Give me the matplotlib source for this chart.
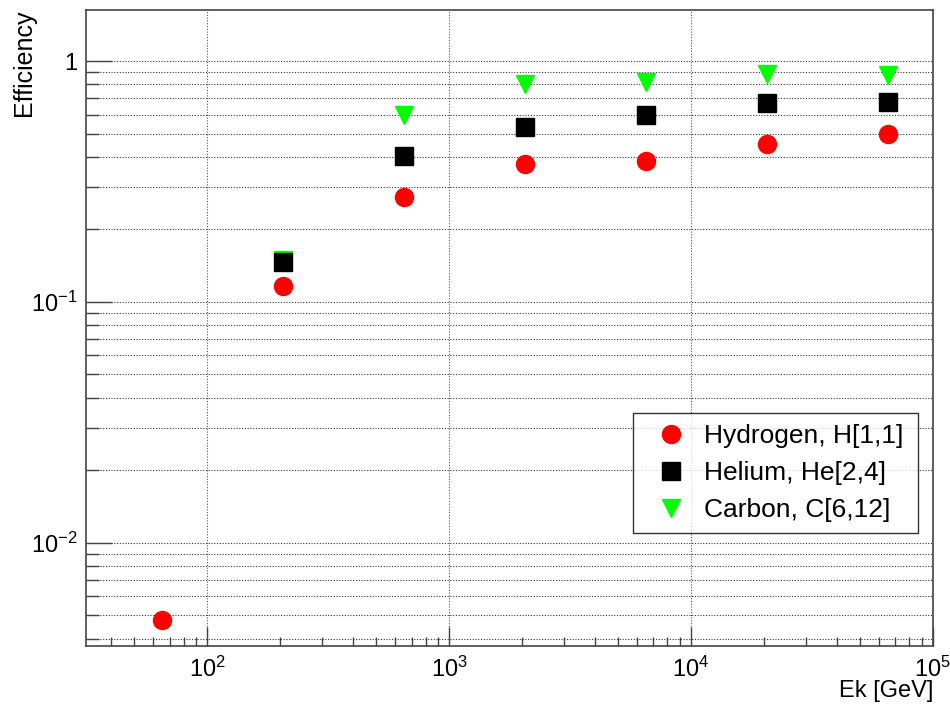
import matplotlib
matplotlib.use('Agg')
import matplotlib.pyplot as plt
import matplotlib.ticker as ticker
import numpy as np

plt.rcParams['font.family'] = ['Liberation Sans', 'DejaVu Sans']
plt.rcParams['mathtext.fontset'] = 'custom'
plt.rcParams['mathtext.rm'] = 'Liberation Sans'
plt.rcParams['mathtext.it'] = 'Liberation Sans:italic'

# kinetic energy bins [GeV]
ek_h = [65, 206, 650, 2060, 6500, 20600, 65000]
ek_he = [206, 650, 2060, 6500, 20600, 65000]
ek_c = [206, 650, 2060, 6500, 20600, 65000]

eff_h = [0.00477, 0.116, 0.274, 0.373, 0.386, 0.452, 0.496]
eff_he = [0.147, 0.404, 0.533, 0.596, 0.667, 0.675]
eff_c = [0.150, 0.597, 0.803, 0.819, 0.885, 0.876]

labels = ['Hydrogen, H[1,1]', 'Helium, He[2,4]', 'Carbon, C[6,12]']

fig = plt.figure(figsize=(9.5, 7.04), dpi=100)
ax = fig.add_axes([0.0905, 0.0824, 0.8915, 0.9034])

# carbon first so helium squares sit on top of it
l_c, = ax.plot(ek_c, eff_c, 'v', color='#00ff00', ms=13, mec='#00ff00', zorder=3)
l_h, = ax.plot(ek_h, eff_h, 'o', color='#ff0000', ms=13, mec='#ff0000', zorder=3)
l_he, = ax.plot(ek_he, eff_he, 's', color='black', ms=12.5, zorder=4)

ax.set_xscale('log')
ax.set_yscale('log')
ax.set_xlim(31.6, 1e5)
ax.set_ylim(0.00373, 1.63)

ax.xaxis.set_major_locator(ticker.FixedLocator([1e2, 1e3, 1e4, 1e5]))
ax.xaxis.set_major_formatter(ticker.FixedFormatter(['$10^{2}$', '$10^{3}$', '$10^{4}$', '$10^{5}$']))
ax.xaxis.set_minor_locator(ticker.LogLocator(base=10, subs=np.arange(2, 10), numticks=20))
ax.xaxis.set_minor_formatter(ticker.NullFormatter())
ax.yaxis.set_major_locator(ticker.FixedLocator([1e-2, 1e-1, 1]))
ax.yaxis.set_major_formatter(ticker.FixedFormatter(['$10^{-2}$', '$10^{-1}$', '1']))
ax.yaxis.set_minor_locator(ticker.LogLocator(base=10, subs=np.arange(2, 10), numticks=20))
ax.yaxis.set_minor_formatter(ticker.NullFormatter())

ax.tick_params(axis='both', which='both', direction='in', colors='#444444', labelcolor='black',
               width=1.0, labelsize=17)
ax.tick_params(axis='x', which='major', length=13.7, pad=8)
ax.tick_params(axis='x', which='minor', length=6.7)
ax.tick_params(axis='y', which='major', length=18.5, pad=6)
ax.tick_params(axis='y', which='minor', length=9.6)

ax.grid(True, axis='x', which='major', linestyle=(0, (1, 1.5)), color='#555555', linewidth=0.8)
ax.grid(True, axis='y', which='both', linestyle=(0, (1, 1.5)), color='#333333', linewidth=0.8)
ax.set_axisbelow(True)

for s in ax.spines.values():
    s.set_color('#444444')
    s.set_linewidth(1.2)

ax.set_xlabel('Ek [GeV]', fontsize=17, loc='right', labelpad=-2)
fig.text(24 / 950, 1 - 10 / 704, 'Efficiency', fontsize=18, rotation=90, ha='center', va='top')

leg = ax.legend([l_h, l_he, l_c], labels, loc='lower left',
                bbox_to_anchor=(0.646, 0.178, 0.336, 0.195), mode='expand',
                fontsize=19, frameon=True, fancybox=False, edgecolor='black',
                handletextpad=0.2, labelspacing=0.5, borderpad=0.4, handlelength=2.1,
                borderaxespad=0)
leg.get_frame().set_linewidth(1.0)

fig.savefig('out.png', dpi=100)
